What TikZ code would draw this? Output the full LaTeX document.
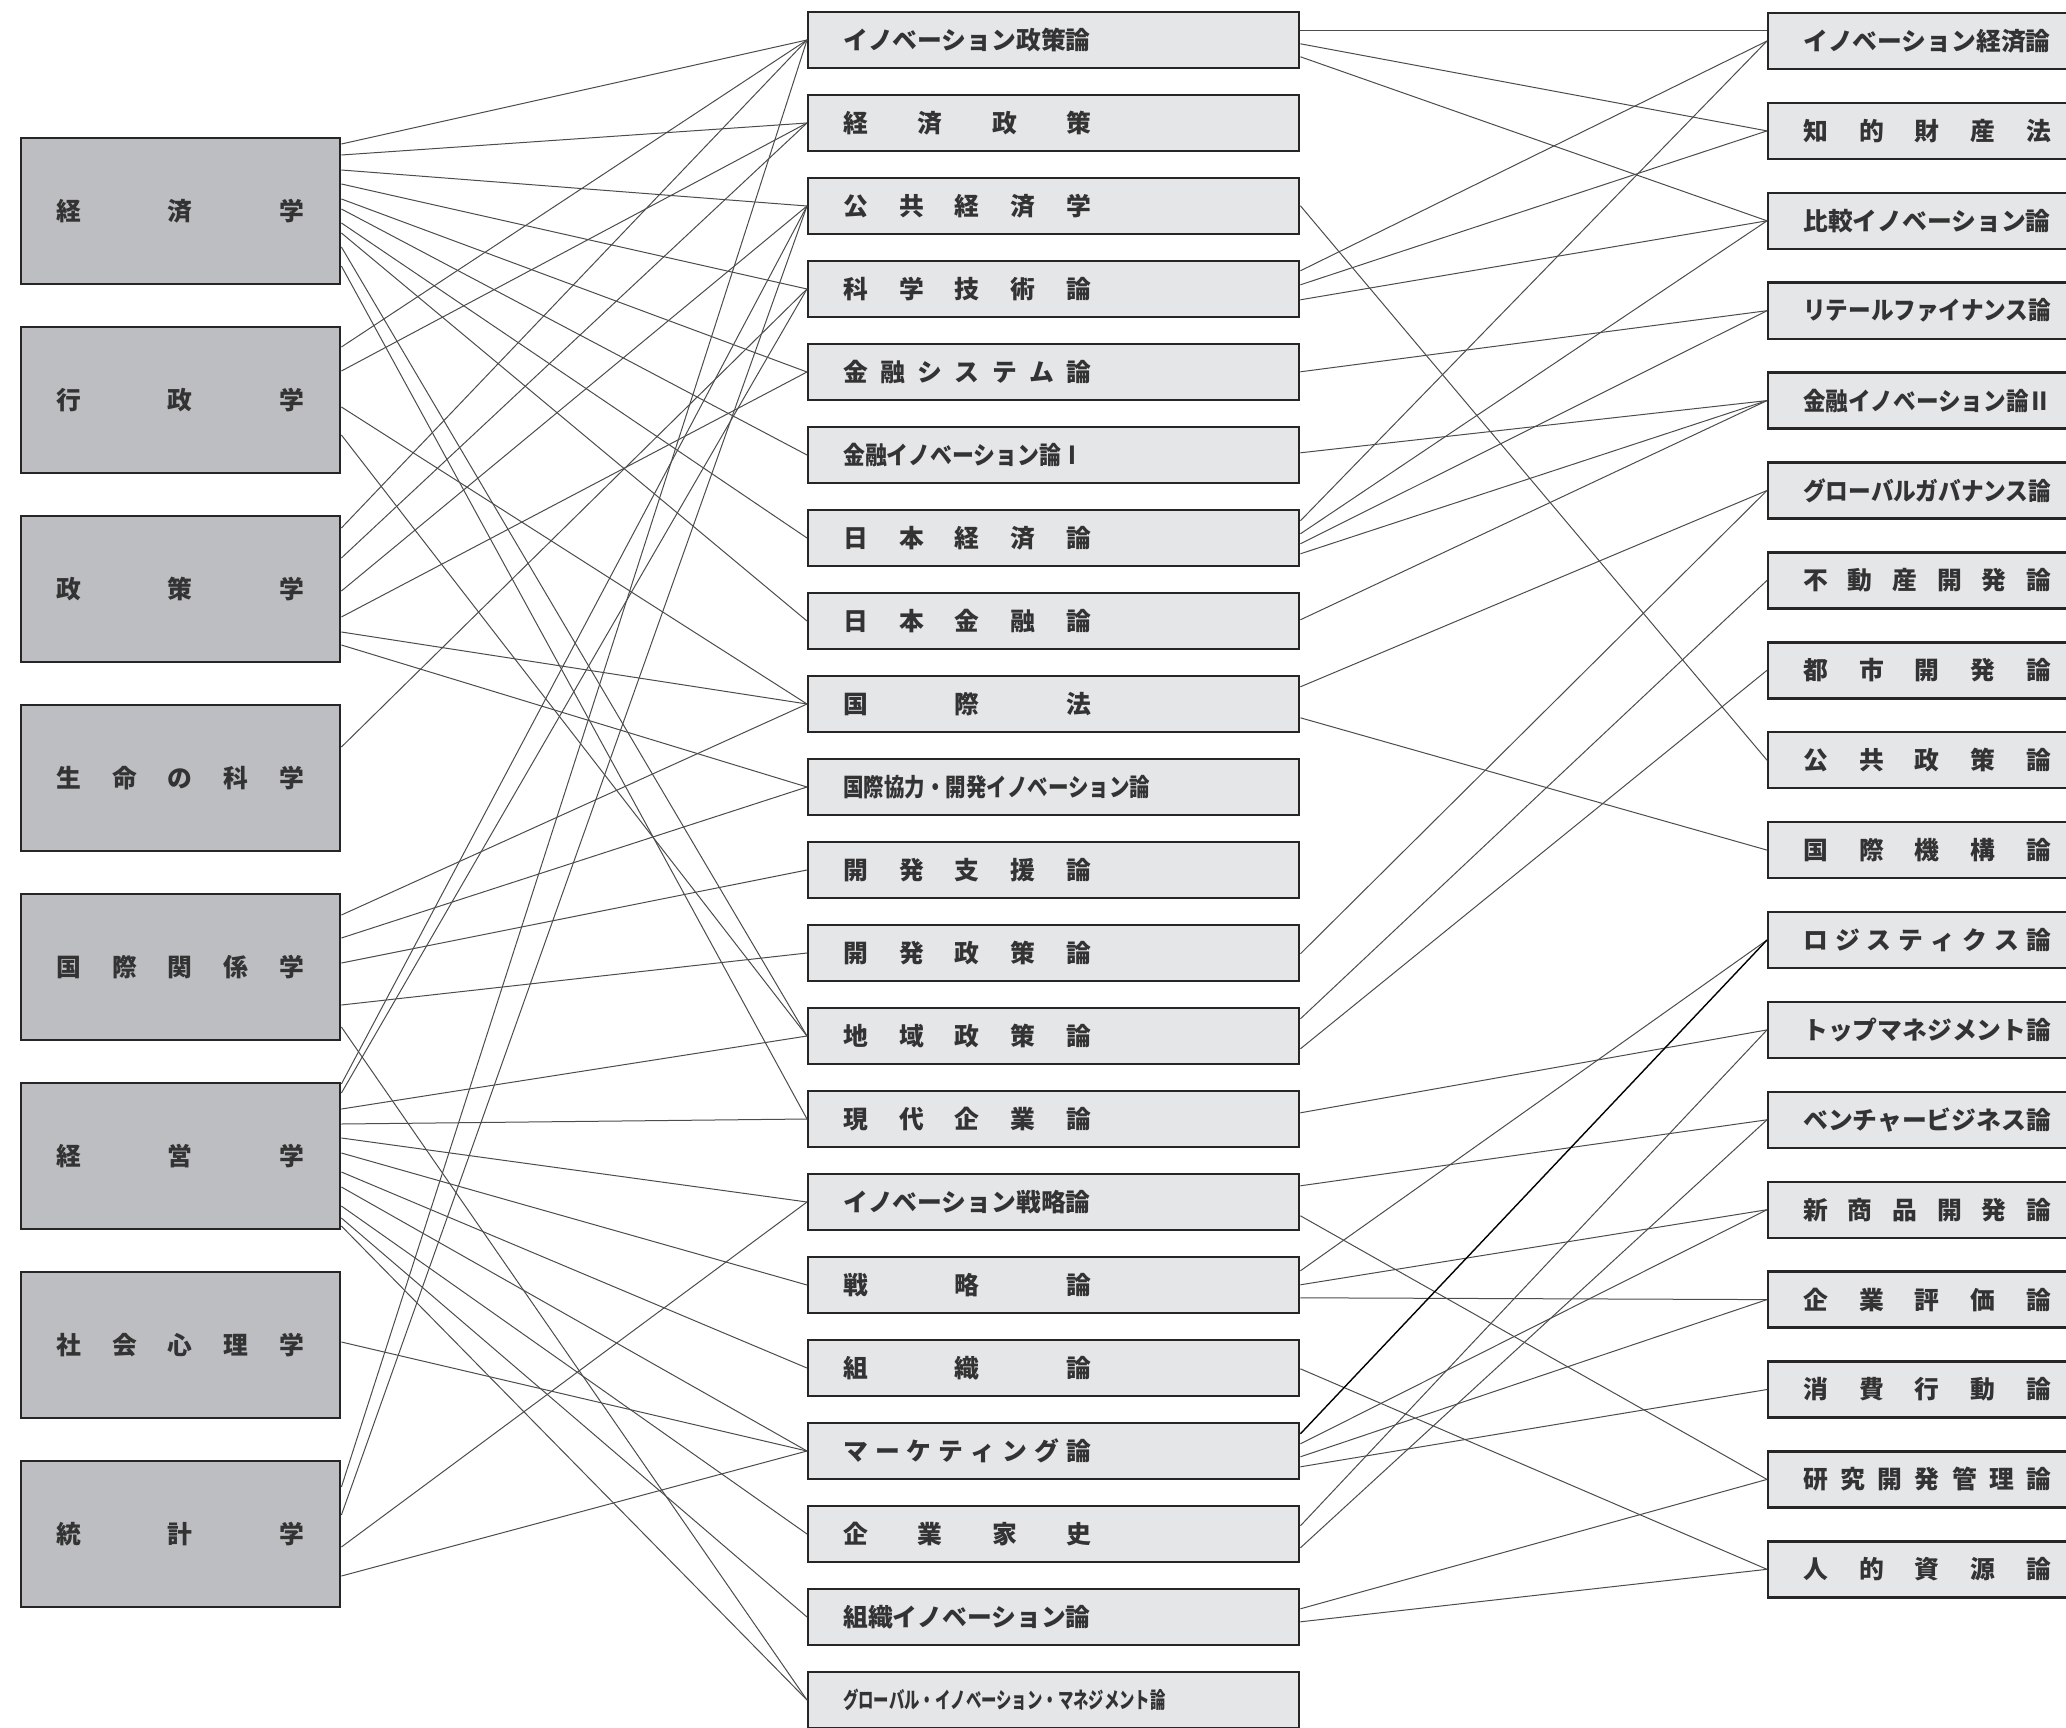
\documentclass[tikz,border=0pt]{standalone}
\usepackage{fontspec}
\usepackage{graphicx}
\newfontfamily\jpfont{Noto Sans CJK JP}
\usetikzlibrary{calc}

\definecolor{fieldgray}{RGB}{188,190,193}
\definecolor{coursegray}{RGB}{229,230,232}
\newlength{\labelw}
\setlength{\labelw}{124pt}
\newcommand{\spread}[1]{\makebox[\labelw][s]{\spreadloop#1\relax}}
\def\spreadloop#1#2{#1\ifx\relax#2\else\hfill\expandafter\spreadloop\expandafter#2\fi}
\newcommand{\fitto}[2]{\resizebox{#1}{\height}{#2}}

\tikzset{FIELD/.style={rectangle,draw=black!85,line width=1.2pt,fill=fieldgray,minimum height=73pt,text width=124.5pt,inner xsep=17.5pt,inner ysep=0pt,align=left,anchor=north west,text=black!80,font={\jpfont\bfseries\fontsize{12.4pt}{14pt}\selectfont}}}
\tikzset{SUBJECT/.style={rectangle,draw=black!85,line width=1.2pt,fill=coursegray,minimum height=28pt,text width=210.5pt,inner xsep=17.5pt,inner ysep=0pt,align=left,anchor=west,text=black!80,font={\jpfont\bfseries\fontsize{12.4pt}{14pt}\selectfont}}}
\tikzset{COURSE/.style={SUBJECT,text width=131.5pt}}
\tikzset{LINK/.style={draw=black!70,line width=0.5pt}}
\tikzset{DARKLINK/.style={draw=black,line width=0.7pt}}

\begin{document}
\begin{tikzpicture}[x=0.5pt,y=-0.5pt]
\useasboundingbox (0,0) rectangle (2066,1728);
\clip (0,0) rectangle (2066,1728);

% fields
\node[FIELD] (n_keizai) at (20,137) {\spread{経済学}};
\node[FIELD] (n_gyosei) at (20,326) {\spread{行政学}};
\node[FIELD] (n_seisaku) at (20,515) {\spread{政策学}};
\node[FIELD] (n_seimei) at (20,704) {\spread{生命の科学}};
\node[FIELD] (n_kokusai) at (20,893) {\spread{国際関係学}};
\node[FIELD] (n_keiei) at (20,1082) {\spread{経営学}};
\node[FIELD] (n_shakai) at (20,1271) {\spread{社会心理学}};
\node[FIELD] (n_tokei) at (20,1460) {\spread{統計学}};

% subjects
\node[SUBJECT] (n_s0) at (807,40) {イノベーション政策論};
\node[SUBJECT] (n_s1) at (807,123) {\spread{経済政策}};
\node[SUBJECT] (n_s2) at (807,206) {\spread{公共経済学}};
\node[SUBJECT] (n_s3) at (807,289) {\spread{科学技術論}};
\node[SUBJECT] (n_s4) at (807,372) {\spread{金融システム論}};
\node[SUBJECT] (n_s5) at (807,455) {\fitto{120pt}{金融イノベーション論Ⅰ}};
\node[SUBJECT] (n_s6) at (807,538) {\spread{日本経済論}};
\node[SUBJECT] (n_s7) at (807,621) {\spread{日本金融論}};
\node[SUBJECT] (n_s8) at (807,704) {\spread{国際法}};
\node[SUBJECT] (n_s9) at (807,787) {\fitto{153.5pt}{国際協力・開発イノベーション論}};
\node[SUBJECT] (n_s10) at (807,870) {\spread{開発支援論}};
\node[SUBJECT] (n_s11) at (807,953) {\spread{開発政策論}};
\node[SUBJECT] (n_s12) at (807,1036) {\spread{地域政策論}};
\node[SUBJECT] (n_s13) at (807,1119) {\spread{現代企業論}};
\node[SUBJECT] (n_s14) at (807,1202) {イノベーション戦略論};
\node[SUBJECT] (n_s15) at (807,1285) {\spread{戦略論}};
\node[SUBJECT] (n_s16) at (807,1368) {\spread{組織論}};
\node[SUBJECT] (n_s17) at (807,1451) {\spread{マーケティング論}};
\node[SUBJECT] (n_s18) at (807,1534) {\spread{企業家史}};
\node[SUBJECT] (n_s19) at (807,1617) {組織イノベーション論};
\node[SUBJECT] (n_s20) at (807,1700) {\scalebox{0.62}[0.9]{グローバル・イノベーション・マネジメント論}};

% courses
\node[COURSE] (n_c0) at (1767,41) {イノベーション経済論};
\node[COURSE] (n_c1) at (1767,130.9) {\spread{知的財産法}};
\node[COURSE] (n_c2) at (1767,220.8) {比較イノベーション論};
\node[COURSE] (n_c3) at (1767,310.7) {\fitto{124pt}{リテールファイナンス論}};
\node[COURSE] (n_c4) at (1767,400.6) {\fitto{124pt}{金融イノベーション論Ⅱ}};
\node[COURSE] (n_c5) at (1767,490.5) {\fitto{124pt}{グローバルガバナンス論}};
\node[COURSE] (n_c6) at (1767,580.4) {\spread{不動産開発論}};
\node[COURSE] (n_c7) at (1767,670.3) {\spread{都市開発論}};
\node[COURSE] (n_c8) at (1767,760.2) {\spread{公共政策論}};
\node[COURSE] (n_c9) at (1767,850.1) {\spread{国際機構論}};
\node[COURSE] (n_c10) at (1767,940) {\spread{ロジスティクス論}};
\node[COURSE] (n_c11) at (1767,1029.9) {トップマネジメント論};
\node[COURSE] (n_c12) at (1767,1119.8) {ベンチャービジネス論};
\node[COURSE] (n_c13) at (1767,1209.7) {\spread{新商品開発論}};
\node[COURSE] (n_c14) at (1767,1299.6) {\spread{企業評価論}};
\node[COURSE] (n_c15) at (1767,1389.5) {\spread{消費行動論}};
\node[COURSE] (n_c16) at (1767,1479.4) {\spread{研究開発管理論}};
\node[COURSE] (n_c17) at (1767,1569.3) {\spread{人的資源論}};

% fields to subjects
\draw[LINK] ($(n_keizai.north east)+(0,7)$) -- (n_s0.west);
\draw[LINK] ($(n_keizai.north east)+(0,18)$) -- (n_s1.west);
\draw[LINK] ($(n_keizai.north east)+(0,33)$) -- (n_s2.west);
\draw[LINK] ($(n_keizai.north east)+(0,47)$) -- (n_s3.west);
\draw[LINK] ($(n_keizai.north east)+(0,62)$) -- (n_s4.west);
\draw[LINK] ($(n_keizai.north east)+(0,72)$) -- (n_s5.west);
\draw[LINK] ($(n_keizai.north east)+(0,86)$) -- (n_s6.west);
\draw[LINK] ($(n_keizai.north east)+(0,96)$) -- (n_s7.west);
\draw[LINK] ($(n_keizai.north east)+(0,110)$) -- (n_s12.west);
\draw[LINK] ($(n_keizai.north east)+(0,129)$) -- (n_s13.west);

\draw[LINK] ($(n_gyosei.north east)+(0,21)$) -- (n_s0.west);
\draw[LINK] ($(n_gyosei.north east)+(0,45)$) -- (n_s1.west);
\draw[LINK] ($(n_gyosei.north east)+(0,81)$) -- (n_s8.west);
\draw[LINK] ($(n_gyosei.north east)+(0,109)$) -- (n_s12.west);

\draw[LINK] ($(n_seisaku.north east)+(0,13)$) -- (n_s0.west);
\draw[LINK] ($(n_seisaku.north east)+(0,43)$) -- (n_s1.west);
\draw[LINK] ($(n_seisaku.north east)+(0,76)$) -- (n_s2.west);
\draw[LINK] ($(n_seisaku.north east)+(0,102)$) -- (n_s4.west);
\draw[LINK] ($(n_seisaku.north east)+(0,117)$) -- (n_s8.west);
\draw[LINK] ($(n_seisaku.north east)+(0,130)$) -- (n_s9.west);

\draw[LINK] ($(n_seimei.north east)+(0,43)$) -- (n_s3.west);

\draw[LINK] ($(n_kokusai.north east)+(0,22)$) -- (n_s8.west);
\draw[LINK] ($(n_kokusai.north east)+(0,45)$) -- (n_s9.west);
\draw[LINK] ($(n_kokusai.north east)+(0,70)$) -- (n_s10.west);
\draw[LINK] ($(n_kokusai.north east)+(0,112)$) -- (n_s11.west);
\draw[LINK] ($(n_kokusai.north east)+(0,134)$) -- (n_s20.west);

\draw[LINK] ($(n_keiei.north east)+(0,2)$) -- (n_s2.west);
\draw[LINK] ($(n_keiei.north east)+(0,11)$) -- (n_s3.west);
\draw[LINK] ($(n_keiei.north east)+(0,27)$) -- (n_s12.west);
\draw[LINK] ($(n_keiei.north east)+(0,42)$) -- (n_s13.west);
\draw[LINK] ($(n_keiei.north east)+(0,56)$) -- (n_s14.west);
\draw[LINK] ($(n_keiei.north east)+(0,71)$) -- (n_s15.west);
\draw[LINK] ($(n_keiei.north east)+(0,90)$) -- (n_s16.west);
\draw[LINK] ($(n_keiei.north east)+(0,105)$) -- (n_s17.west);
\draw[LINK] ($(n_keiei.north east)+(0,124)$) -- (n_s18.west);
\draw[LINK] ($(n_keiei.north east)+(0,136)$) -- (n_s19.west);
\draw[LINK] ($(n_keiei.north east)+(0,144)$) -- (n_s20.west);

\draw[LINK] ($(n_shakai.north east)+(0,71)$) -- (n_s17.west);

\draw[LINK] ($(n_tokei.north east)+(0,27)$) -- (n_s0.west);
\draw[LINK] ($(n_tokei.north east)+(0,55)$) -- (n_s2.west);
\draw[LINK] ($(n_tokei.north east)+(0,87)$) -- (n_s14.west);
\draw[LINK] ($(n_tokei.north east)+(0,116)$) -- (n_s17.west);

% subjects to courses
\draw[LINK] ($(n_s0.north east)+(0,20)$) -- ($(n_c0.north west)+(0,19)$);
\draw[LINK] ($(n_s0.north east)+(0,33)$) -- (n_c1.west);
\draw[LINK] ($(n_s0.north east)+(0,46)$) -- (n_c2.west);
\draw[LINK] ($(n_s2.north east)+(0,29)$) -- (n_c8.west);
\draw[LINK] ($(n_s3.north east)+(0,11)$) -- (n_c0.west);
\draw[LINK] ($(n_s3.north east)+(0,25)$) -- (n_c1.west);
\draw[LINK] ($(n_s3.north east)+(0,40)$) -- (n_c2.west);
\draw[LINK] ($(n_s4.north east)+(0,29)$) -- (n_c3.west);
\draw[LINK] ($(n_s5.north east)+(0,27)$) -- (n_c4.west);
\draw[LINK] ($(n_s6.north east)+(0,12)$) -- (n_c0.west);
\draw[LINK] ($(n_s6.north east)+(0,25)$) -- (n_c2.west);
\draw[LINK] ($(n_s6.north east)+(0,35)$) -- (n_c3.west);
\draw[LINK] ($(n_s6.north east)+(0,45)$) -- (n_c4.west);
\draw[LINK] ($(n_s7.north east)+(0,28)$) -- (n_c4.west);
\draw[LINK] ($(n_s8.north east)+(0,12)$) -- (n_c5.west);
\draw[LINK] ($(n_s8.north east)+(0,43)$) -- (n_c9.west);
\draw[LINK] ($(n_s11.north east)+(0,30)$) -- (n_c5.west);
\draw[LINK] ($(n_s12.north east)+(0,12)$) -- (n_c6.west);
\draw[LINK] ($(n_s12.north east)+(0,42)$) -- (n_c7.west);
\draw[LINK] ($(n_s13.north east)+(0,23)$) -- (n_c11.west);
\draw[LINK] ($(n_s14.north east)+(0,13)$) -- (n_c12.west);
\draw[LINK] ($(n_s14.north east)+(0,43)$) -- (n_c16.west);
\draw[LINK] ($(n_s15.north east)+(0,15)$) -- (n_c10.west);
\draw[LINK] ($(n_s15.north east)+(0,29)$) -- (n_c13.west);
\draw[LINK] ($(n_s15.north east)+(0,42)$) -- (n_c14.west);
\draw[LINK] ($(n_s16.north east)+(0,30)$) -- (n_c17.west);
\draw[DARKLINK] ($(n_s17.north east)+(0,12)$) -- (n_c10.west);
\draw[LINK] ($(n_s17.north east)+(0,22)$) -- (n_c13.west);
\draw[LINK] ($(n_s17.north east)+(0,35)$) -- (n_c14.west);
\draw[LINK] ($(n_s17.north east)+(0,45)$) -- (n_c15.west);
\draw[LINK] ($(n_s18.north east)+(0,21)$) -- (n_c11.west);
\draw[LINK] ($(n_s18.north east)+(0,43)$) -- (n_c12.west);
\draw[LINK] ($(n_s19.north east)+(0,21)$) -- (n_c16.west);
\draw[LINK] ($(n_s19.north east)+(0,34)$) -- (n_c17.west);

\end{tikzpicture}
\end{document}
